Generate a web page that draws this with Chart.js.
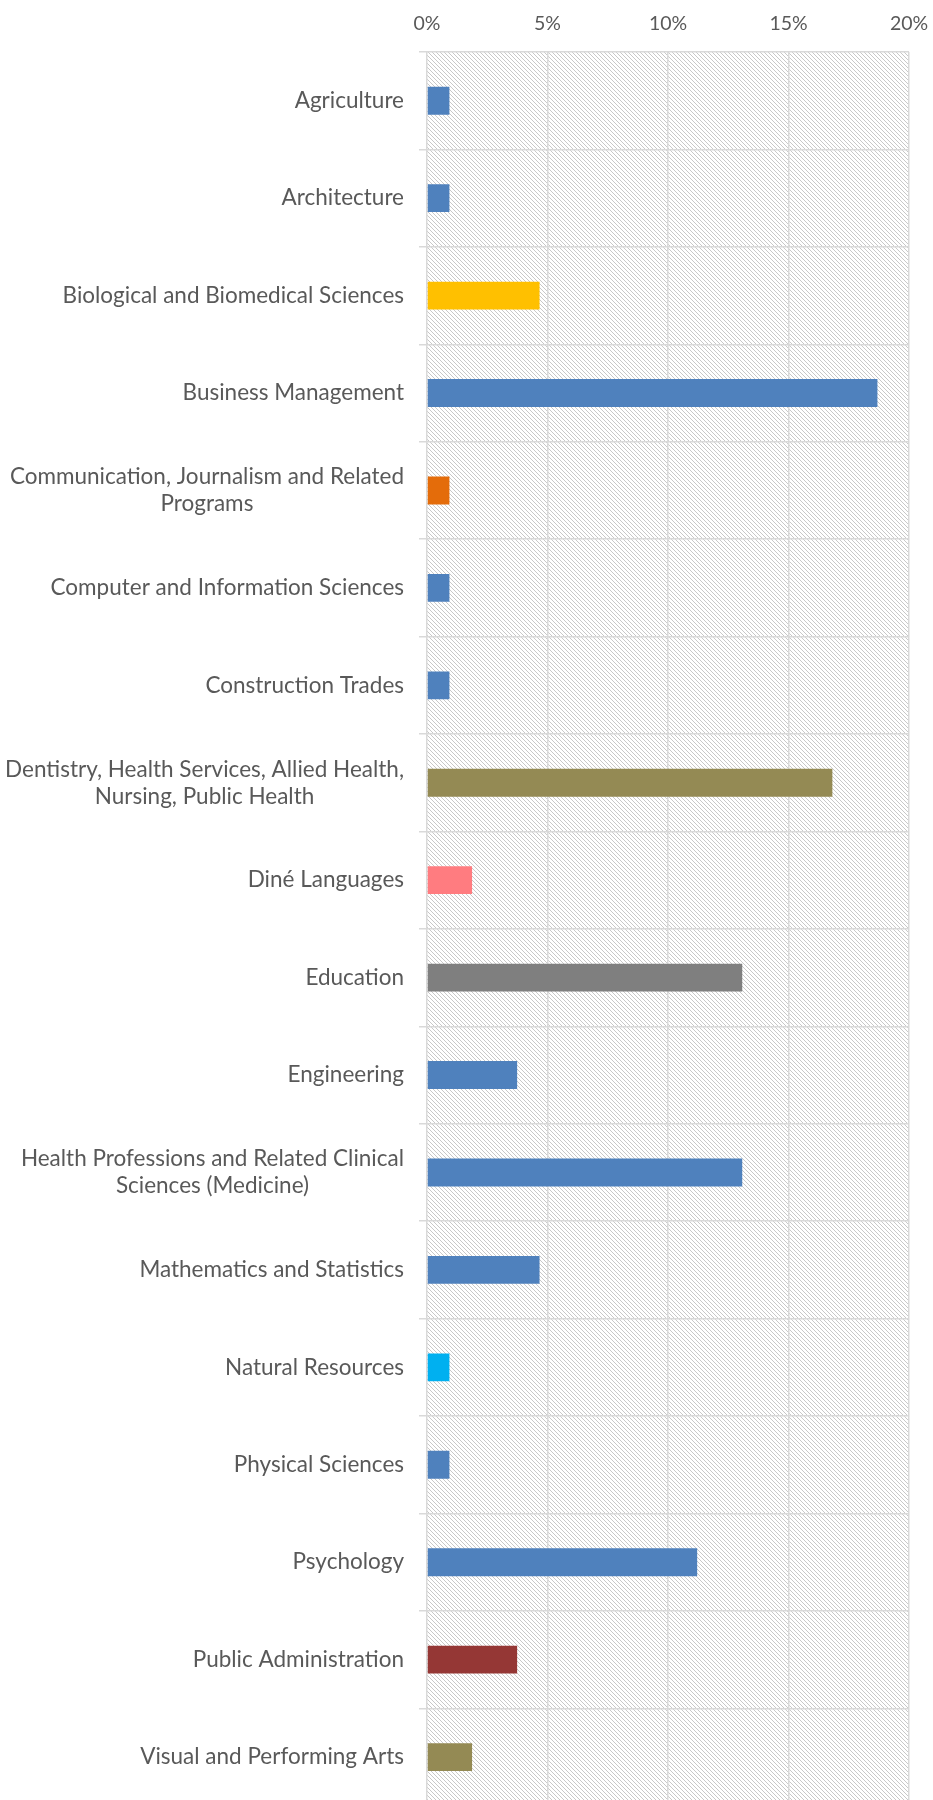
<!DOCTYPE html>
<html>
<head>
<meta charset="utf-8">
<script src="https://cdn.jsdelivr.net/npm/chart.js@4.4.1/dist/chart.umd.min.js"></script>
<style>
  html, body { margin: 0; padding: 0; background: #fff; overflow: hidden; }
  canvas { display: block; }
</style>
</head>
<body>
<canvas id="chart" width="933" height="1816"></canvas>
<script>
// Categorías (las de dos líneas van como arreglo)
const categories = [
    'Agriculture',
    'Architecture',
    'Biological and Biomedical Sciences',
    'Business Management',
    ['Communication, Journalism and Related', 'Programs'],
    'Computer and Information Sciences',
    'Construction Trades',
    ['Dentistry, Health Services, Allied Health,', 'Nursing, Public Health'],
    'Diné Languages',
    'Education',
    'Engineering',
    ['Health Professions and Related Clinical', 'Sciences (Medicine)'],
    'Mathematics and Statistics',
    'Natural Resources',
    'Physical Sciences',
    'Psychology',
    'Public Administration',
    'Visual and Performing Arts'
];

// Porcentaje por categoría (%)
const shares = [0.93, 0.93, 4.67, 18.69, 0.93, 0.93, 0.93, 16.82, 1.87, 13.08, 3.74, 13.08, 4.67, 0.93, 0.93, 11.21, 3.74, 1.87];

const barColors = [
    '#4F81BD', '#4F81BD', '#FFC000', '#4F81BD', '#E46C0A', '#4F81BD', '#4F81BD', '#948A54', '#FF7C80',
    '#7F7F7F', '#4F81BD', '#4F81BD', '#4F81BD', '#00B0F0', '#4F81BD', '#4F81BD', '#953735', '#948A54'
];

const xTicks = [0, 5, 10, 15, 20];

const FONT = 'Lato';
const TEXT = '#595959';
const GRID = '#d9d9d9';

// Patrón rayado del fondo del área de trazado
function makeHatch() {
    const c = document.createElement('canvas');
    c.width = 4; c.height = 4;
    const g = c.getContext('2d');
    g.fillStyle = '#ffffff';
    g.fillRect(0, 0, 4, 4);
    g.fillStyle = '#c8c8c8';
    for (let i = 0; i < 4; i++) g.fillRect(i, i, 1, 1);
    return c;
}

const hatchBackground = {
    id: 'hatchBackground',
    beforeDraw(chart) {
        const { ctx, chartArea: a } = chart;
        ctx.save();
        ctx.fillStyle = ctx.createPattern(makeHatch(), 'repeat');
        ctx.fillRect(a.left, a.top, a.right - a.left, a.bottom - a.top);
        ctx.restore();
    }
};

// Etiquetas del eje Y: bloque alineado a la derecha, líneas centradas
const categoryLabels = {
    id: 'categoryLabels',
    afterDraw(chart) {
        const { ctx } = chart;
        const y = chart.scales.y;
        ctx.save();
        ctx.font = `22.5px ${FONT}`;
        ctx.fillStyle = TEXT;
        ctx.textAlign = 'center';
        ctx.textBaseline = 'middle';
        const rightEdge = y.right - 23;
        const lh = 27;
        y.ticks.forEach((t, i) => {
            const lines = [].concat(chart.data.labels[i]);
            const w = Math.max(...lines.map(l => ctx.measureText(l).width));
            const cx = rightEdge - w / 2;
            const cy = y.getPixelForTick(i);
            lines.forEach((l, j) => {
                ctx.fillText(l, cx, cy + (j - (lines.length - 1) / 2) * lh);
            });
        });
        ctx.restore();
    }
};

function draw() {
    new Chart(document.getElementById('chart'), {
        type: 'bar',
        data: {
            labels: categories,
            datasets: [{
                data: shares,
                backgroundColor: barColors,
                borderWidth: 0,
                categoryPercentage: 1,
                barPercentage: 0.286
            }]
        },
        options: {
            indexAxis: 'y',
            responsive: false,
            animation: false,
            layout: { padding: { left: 0, right: 24, top: 0, bottom: 3 } },
            plugins: {
                legend: { display: false },
                tooltip: { enabled: false }
            },
            scales: {
                x: {
                    position: 'top',
                    min: xTicks[0],
                    max: xTicks[xTicks.length - 1],
                    afterBuildTicks: scale => {
                        scale.ticks = xTicks.map(v => ({ value: v }));
                    },
                    afterFit: scale => {
                        scale.height = 52;
                        scale.paddingLeft = 0;
                        scale.paddingRight = 0;
                    },
                    ticks: {
                        callback: v => v + '%',
                        color: TEXT,
                        font: { family: FONT, size: 19.5 },
                        padding: 17,
                        maxRotation: 0
                    },
                    grid: { color: GRID, lineWidth: 1.5, drawTicks: false },
                    border: { display: false }
                },
                y: {
                    afterFit: scale => { scale.width = 427; },
                    ticks: { callback: () => '' },
                    grid: { color: GRID, lineWidth: 1.5, tickLength: 8, offset: true },
                    border: { display: false }
                }
            }
        },
        plugins: [hatchBackground, categoryLabels]
    });
}

document.fonts.load(`22px ${FONT}`).then(draw, draw);
</script>
</body>
</html>
